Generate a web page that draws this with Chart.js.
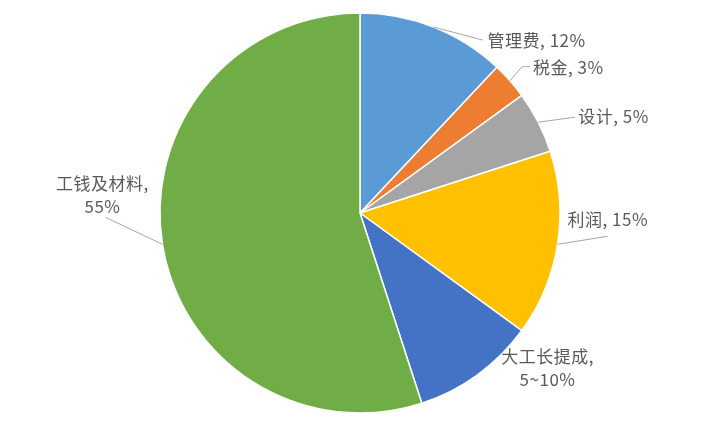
<!DOCTYPE html>
<html>
<head>
<meta charset="utf-8">
<script src="https://cdn.jsdelivr.net/npm/chart.js@4.4.1/dist/chart.umd.min.js"></script>
<style>
html,body{margin:0;padding:0;background:#fff;}
#wrap{width:720px;height:428px;}
</style>
</head>
<body>
<div id="wrap"><canvas id="c" width="720" height="428"></canvas></div>
<script>
const categories = ['管理费', '税金', '设计', '利润', '大工长提成', '工钱及材料'];
const values = [12, 3, 5, 15, 10, 55];
const valueLabels = ['12%', '3%', '5%', '15%', '5~10%', '55%'];
const colors = ['#5B9BD5', '#ED7D31', '#A5A5A5', '#FFC000', '#4472C4', '#70AD47'];

// label layout offsets relative to each slice's outer mid-point (style only)
const labelStyle = [
  {lines: 1, align: 'left',   tx: 54, ty: 14,  leader: [[49, 13]]},
  {lines: 1, align: 'left',   tx: 23, ty: -13, leader: [[12, -14], [20, -14]]},
  {lines: 1, align: 'left',   tx: 40, ty: -6,  leader: [[37, -5]]},
  {lines: 1, align: 'left',   tx: 10, ty: -25, leader: [[50, -8]]},
  {lines: 2, align: 'center', tx: 70, ty: -18, leader: null},
  {lines: 2, align: 'center', tx: -60, ty: -61, leader: [[-57, -27]]}
];

const labelPlugin = {
  id: 'pieLabels',
  afterDatasetsDraw(chart) {
    const ctx = chart.ctx;
    const meta = chart.getDatasetMeta(0);
    ctx.save();
    ctx.font = '17px "Noto Sans CJK SC", "Noto Sans", sans-serif';
    try { ctx.letterSpacing = '0.5px'; } catch (e) {}
    ctx.fillStyle = '#595959';
    ctx.strokeStyle = '#A6A6A6';
    ctx.lineWidth = 1;
    ctx.textBaseline = 'middle';
    meta.data.forEach((arc, i) => {
      const p = arc.getProps(['x', 'y', 'startAngle', 'endAngle', 'outerRadius'], true);
      const mid = (p.startAngle + p.endAngle) / 2;
      const ex = p.x + Math.cos(mid) * p.outerRadius;
      const ey = p.y + Math.sin(mid) * p.outerRadius;
      const s = labelStyle[i];
      if (s.leader) {
        ctx.beginPath();
        ctx.moveTo(ex, ey);
        s.leader.forEach(pt => ctx.lineTo(ex + pt[0], ey + pt[1]));
        ctx.stroke();
      }
      ctx.textAlign = s.align;
      const x = ex + s.tx, y = ey + s.ty;
      if (s.lines === 1) {
        ctx.fillText(categories[i] + ', ' + valueLabels[i], x, y);
      } else {
        ctx.fillText(categories[i] + ',', x, y);
        ctx.fillText(valueLabels[i], x, y + 23);
      }
    });
    ctx.restore();
  }
};

new Chart(document.getElementById('c'), {
  type: 'pie',
  data: {
    labels: categories,
    datasets: [{
      data: values,
      backgroundColor: colors,
      borderColor: '#FFFFFF',
      borderWidth: 1.5,
      radius: 200
    }]
  },
  options: {
    responsive: false,
    animation: false,
    layout: {padding: {top: 13, bottom: 15, left: 0, right: 0}},
    plugins: {legend: {display: false}, tooltip: {enabled: false}}
  },
  plugins: [labelPlugin]
});
</script>
</body>
</html>
